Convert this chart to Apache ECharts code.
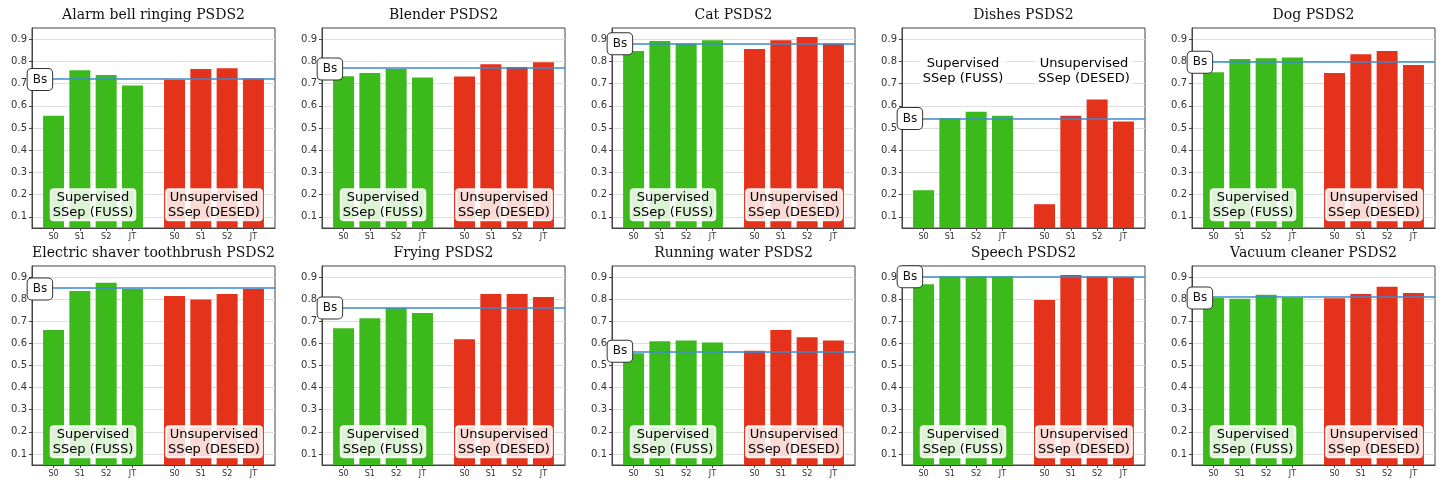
<!DOCTYPE html>
<html>
<head>
<meta charset="utf-8">
<script src="https://cdn.jsdelivr.net/npm/echarts@6/dist/echarts.min.js"></script>
<style>
  html, body { margin: 0; padding: 0; background: #ffffff; }
  #chart { width: 1445px; height: 484px; }
</style>
</head>
<body>
<div id="chart"></div>
<script>
// PSDS2 per sound class: supervised vs unsupervised source separation front-ends
const classNames = [
  'Alarm bell ringing', 'Blender', 'Cat', 'Dishes', 'Dog',
  'Electric shaver toothbrush', 'Frying', 'Running water', 'Speech', 'Vacuum cleaner'
];
const methods = ['S0', 'S1', 'S2', 'JT'];
const groupNames = ['Supervised\nSSep (FUSS)', 'Unsupervised\nSSep (DESED)'];

// S0, S1, S2, JT with the supervised (FUSS) separator
const supervisedScores = [
  [0.555, 0.760, 0.738, 0.691],
  [0.733, 0.747, 0.765, 0.727],
  [0.846, 0.891, 0.880, 0.895],
  [0.220, 0.544, 0.573, 0.555],
  [0.751, 0.810, 0.814, 0.817],
  [0.660, 0.837, 0.874, 0.847],
  [0.669, 0.714, 0.760, 0.738],
  [0.555, 0.610, 0.613, 0.604],
  [0.868, 0.903, 0.902, 0.902],
  [0.805, 0.802, 0.820, 0.808]
];
// S0, S1, S2, JT with the unsupervised (DESED) separator
const unsupervisedScores = [
  [0.717, 0.765, 0.769, 0.723],
  [0.732, 0.787, 0.775, 0.796],
  [0.855, 0.895, 0.910, 0.880],
  [0.157, 0.555, 0.628, 0.529],
  [0.747, 0.832, 0.846, 0.783],
  [0.814, 0.799, 0.823, 0.847],
  [0.619, 0.823, 0.823, 0.810],
  [0.567, 0.660, 0.628, 0.613],
  [0.796, 0.909, 0.903, 0.900],
  [0.804, 0.823, 0.856, 0.828]
];
// Baseline (no separation) score
const baselineScores = [0.718, 0.765, 0.879, 0.543, 0.796, 0.846, 0.760, 0.565, 0.901, 0.805];
// Height at which the group captions sit
const captionHeights = [0.155, 0.155, 0.155, 0.755, 0.155, 0.155, 0.155, 0.155, 0.155, 0.155];
const yTicks = [0.1, 0.2, 0.3, 0.4, 0.5, 0.6, 0.7, 0.8, 0.9];

// ---- layout ----
const GREEN = '#3cba1c', RED = '#e5321b', BLUE = '#3b8ad0';
const GROUP_GAP = 4.6;               // x offset of the second bar group
const X_MIN = -0.82, X_MAX = 8.42;
const Y_MIN = 0.05, Y_MAX = 0.95;
const xPositions = [0, 1, 2, 3].concat([0, 1, 2, 3].map(i => i + GROUP_GAP));
const xLabelFor = v => {
  const k = xPositions.findIndex(p => Math.abs(p - v) < 1e-6);
  return k < 0 ? '' : methods[k % 4];
};

const colLeft = [32, 322, 612, 902, 1192];
const rowTop = [28, 266];
const rowHeight = [200, 199];
const rowTitleY = [16, 254];
const PANEL_W = 243;

const grids = [], xAxes = [], yAxes = [], series = [], titles = [];

classNames.forEach((name, p) => {
  const row = Math.floor(p / 5), col = p % 5;
  const left = colLeft[col], top = rowTop[row];

  grids.push({
    left: left, top: top, width: PANEL_W, height: rowHeight[row],
    show: true, borderColor: '#444', borderWidth: 1, backgroundColor: 'transparent'
  });

  titles.push({
    text: name + ' PSDS2',
    left: left + PANEL_W / 2, top: rowTitleY[row] - 8,
    textAlign: 'center', padding: 0,
    textStyle: { fontFamily: 'DejaVu Serif', fontSize: 14, fontWeight: 'normal', color: '#111' }
  });

  xAxes.push({
    gridIndex: p, type: 'value', min: X_MIN, max: X_MAX, z: 10,
    axisLine: { show: true, onZero: false, lineStyle: { color: '#444', width: 1 } },
    axisTick: { show: true, customValues: xPositions, length: 3, lineStyle: { color: '#444' } },
    axisLabel: {
      customValues: xPositions, formatter: xLabelFor, margin: 4,
      fontFamily: 'DejaVu Sans Condensed, DejaVu Sans', fontSize: 9, color: '#333'
    },
    splitLine: { show: false }
  });

  yAxes.push({
    gridIndex: p, type: 'value', min: Y_MIN, max: Y_MAX,
    axisLine: { show: true, onZero: false, lineStyle: { color: '#444', width: 1 } },
    axisTick: { show: true, customValues: yTicks, length: 3, lineStyle: { color: '#444' } },
    axisLabel: {
      customValues: yTicks, formatter: v => v.toFixed(1), margin: 5,
      fontFamily: 'DejaVu Sans', fontSize: 10, color: '#333'
    },
    splitLine: { show: true, lineStyle: { color: '#dedede', width: 1 } }
  });

  const scores = supervisedScores[p].concat(unsupervisedScores[p]);
  series.push({
    type: 'bar', xAxisIndex: p, yAxisIndex: p, clip: true,
    barWidth: 21, z: 2,
    data: scores.map((v, i) => ({
      value: [xPositions[i], v],
      itemStyle: { color: i < 4 ? GREEN : RED }
    })),
    markLine: {
      silent: true, symbol: 'none', z: 4,
      label: { show: false },
      lineStyle: { color: BLUE, width: 1.6, type: 'solid' },
      data: [{ yAxis: baselineScores[p] }]
    }
  });

  // "Bs" tag at the left end of the baseline
  series.push({
    type: 'scatter', xAxisIndex: p, yAxisIndex: p, z: 8,
    symbolSize: 0, silent: true,
    itemStyle: { opacity: 1 },
    data: [[X_MIN + 0.3, baselineScores[p]]],
    label: {
      show: true, position: 'inside', formatter: 'Bs',
      fontFamily: 'DejaVu Sans', fontSize: 12, color: '#111',
      backgroundColor: '#ffffff', borderColor: '#333', borderWidth: 1,
      borderRadius: 4, padding: [5, 5, 4, 5]
    }
  });

  // Group captions
  const centers = [1.5, 1.5 + GROUP_GAP];
  series.push({
    type: 'scatter', xAxisIndex: p, yAxisIndex: p, z: 7,
    symbolSize: 0, silent: true,
    itemStyle: { opacity: 1 },
    data: centers.map((c, g) => ({ value: [c, captionHeights[p]], name: groupNames[g] })),
    label: {
      show: true, position: 'inside', formatter: d => d.name,
      fontFamily: 'DejaVu Sans', fontSize: 13, lineHeight: 15, color: '#000',
      backgroundColor: 'rgba(255,255,255,0.82)', borderColor: 'rgba(255,255,255,0.9)',
      borderWidth: 1, borderRadius: 3, padding: [1, 2, 0, 2]
    }
  });
});

const chart = echarts.init(document.getElementById('chart'), null, { renderer: 'canvas' });
chart.setOption({
  animation: false,
  backgroundColor: '#ffffff',
  title: titles,
  grid: grids,
  xAxis: xAxes,
  yAxis: yAxes,
  series: series
});
</script>
</body>
</html>
